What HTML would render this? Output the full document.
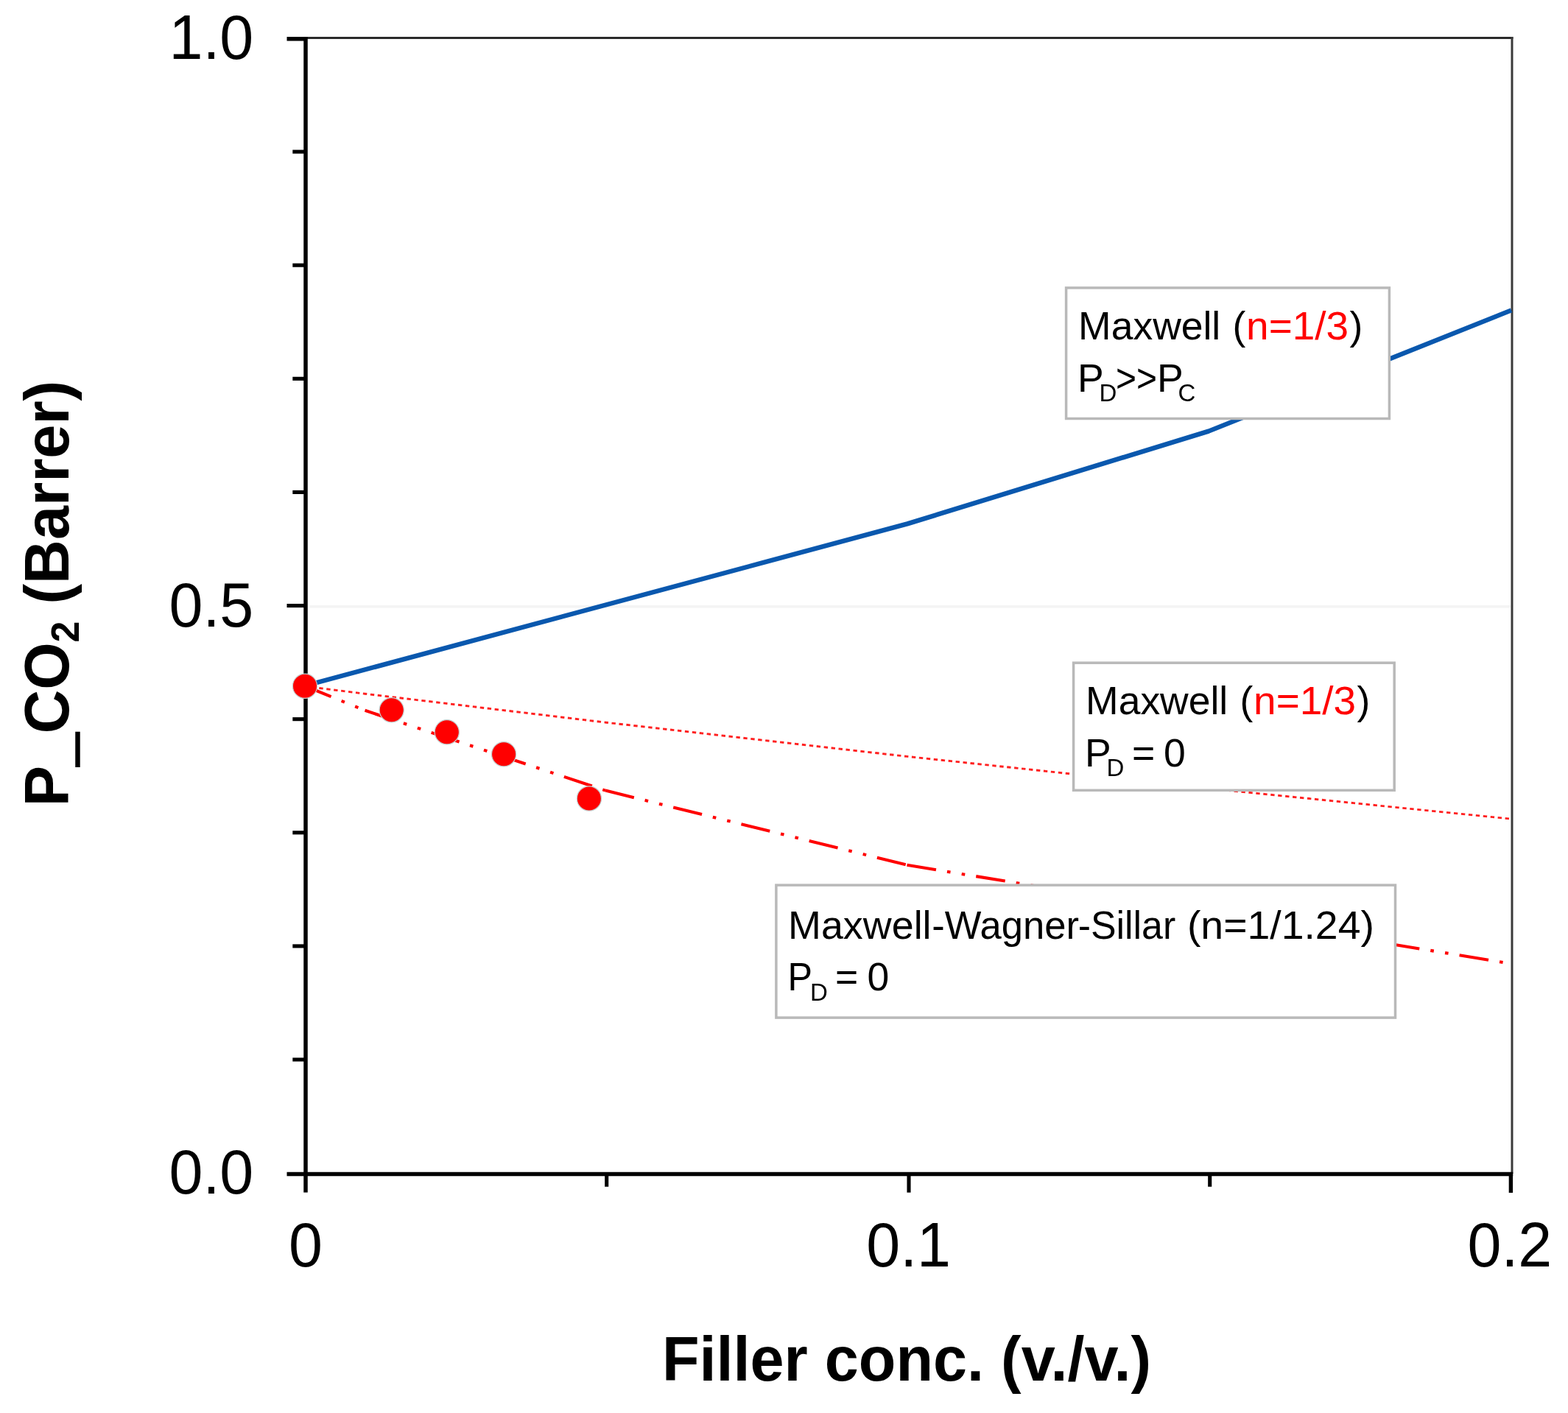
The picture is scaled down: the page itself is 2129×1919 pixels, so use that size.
<!DOCTYPE html>
<html lang="en"><head><meta charset="utf-8"><title>P_CO2 vs filler concentration</title>
<style>
html,body{margin:0;padding:0;background:#fff;}
body{width:2129px;height:1919px;overflow:hidden;}
svg{display:block;}
text{font-family:"Liberation Sans",sans-serif;}
.tick{font-size:82.6px;fill:#000;}
.lab{font-size:82.8px;font-weight:bold;fill:#000;}
.leg{font-size:53.5px;fill:#000;}
.sub{font-size:33px;}
.red{fill:#ff0000;}
</style></head><body>
<svg width="2129" height="1919" viewBox="0 0 2129 1919">
<rect x="0" y="0" width="2129" height="1919" fill="#ffffff"/>
<g>
<line x1="420.5" y1="823.7" x2="2051" y2="823.7" stroke="#f4f4f4" stroke-width="3.4"/>
<line x1="415" y1="51.5" x2="2054.5" y2="51.5" stroke="#2a2a2a" stroke-width="3"/>
<line x1="2053.0" y1="50" x2="2053.0" y2="1594" stroke="#3a3a3a" stroke-width="3"/>
<polyline fill="none" stroke="#0a58ae" stroke-width="6.4" stroke-linejoin="round" points="413.5,931.5 1232.0,711.4 1641.0,585.6 2052.0,421.4"/>
<polyline fill="none" stroke="#ff2020" stroke-width="2.9" stroke-dasharray="5.4 4.6" points="413.5,932.0 495.4,942.2 822.8,981.2 1232.0,1027.4 1641.0,1070.8 2052.0,1112.2"/>
<line x1="412.5" y1="931.0" x2="495.5" y2="964.8" stroke="#ff0000" stroke-width="4.1" stroke-dasharray="40 15.2 4.6 15.4 4.6 15.2"/>
<line x1="495.5" y1="964.8" x2="822.0" y2="1073.6" stroke="#ff0000" stroke-width="4.1" stroke-dasharray="40 15.2 4.6 15.4 4.6 15.2"/>
<line x1="822.0" y1="1073.6" x2="1231.5" y2="1174.8" stroke="#ff0000" stroke-width="4.1" stroke-dasharray="40 15.2 4.6 15.4 4.6 15.2"/>
<line x1="1231.5" y1="1174.8" x2="2052.0" y2="1308.8" stroke="#ff0000" stroke-width="4.1" stroke-dasharray="40 15.2 4.6 15.4 4.6 15.2"/>
<g stroke="#000" stroke-width="5.5" fill="none">
<line x1="415.0" y1="50.3" x2="415.0" y2="1619.6"/>
<line x1="389.5" y1="1594.6" x2="2054.2" y2="1594.6"/>
<line x1="389.5" y1="52.8" x2="415.0" y2="52.8"/>
</g>
<g stroke="#000" stroke-width="5.1" fill="none">
<line x1="397.3" y1="1439.03" x2="415.0" y2="1439.03"/>
<line x1="397.3" y1="1284.91" x2="415.0" y2="1284.91"/>
<line x1="397.3" y1="1130.79" x2="415.0" y2="1130.79"/>
<line x1="397.3" y1="976.67" x2="415.0" y2="976.67"/>
<line x1="389.5" y1="822.55" x2="415.0" y2="822.55"/>
<line x1="397.3" y1="668.43" x2="415.0" y2="668.43"/>
<line x1="397.3" y1="514.31" x2="415.0" y2="514.31"/>
<line x1="397.3" y1="360.19" x2="415.0" y2="360.19"/>
<line x1="397.3" y1="206.07" x2="415.0" y2="206.07"/>
<line x1="823.7" y1="1594.3" x2="823.7" y2="1611.7"/>
<line x1="1234.0" y1="1594.3" x2="1234.0" y2="1619.6"/>
<line x1="1642.7" y1="1594.3" x2="1642.7" y2="1611.7"/>
</g>
<line x1="2051.4" y1="1594.3" x2="2051.4" y2="1619.9" stroke="#000" stroke-width="5.4"/>
<circle cx="414.0" cy="931.8" r="16.6" fill="#ff0000" stroke="#c4cfcf" stroke-width="1.2"/>
<circle cx="531.7" cy="964.3" r="16.6" fill="#ff0000" stroke="#c4cfcf" stroke-width="1.2"/>
<circle cx="606.8" cy="994.3" r="16.6" fill="#ff0000" stroke="#c4cfcf" stroke-width="1.2"/>
<circle cx="684.1" cy="1024.3" r="16.6" fill="#ff0000" stroke="#c4cfcf" stroke-width="1.2"/>
<circle cx="799.9" cy="1084.5" r="16.6" fill="#ff0000" stroke="#c4cfcf" stroke-width="1.2"/>
<rect x="1447.6" y="390.9" width="438.8" height="177.6" fill="#ffffff" stroke="#b9b9b9" stroke-width="3.5"/>
<text class="leg" transform="translate(0 460.8) scale(1 1.020)" xml:space="preserve"><tspan x="1464.1">Maxwell</tspan> <tspan x="1673.6">(</tspan><tspan x="1692.1" class="red" textLength="139.0" lengthAdjust="spacingAndGlyphs">n=1/3</tspan><tspan x="1832.6">)</tspan></text>
<text class="leg" transform="translate(0 531.5) scale(1 1.020)" xml:space="preserve"><tspan x="1463.0">P</tspan><tspan x="1492.5" dy="13.33" class="sub">D</tspan><tspan x="1515.0" dy="-13.33" textLength="56.0" lengthAdjust="spacingAndGlyphs">&gt;&gt;</tspan><tspan x="1571.0">P</tspan><tspan x="1599.5" dy="13.33" class="sub">C</tspan></text>
<rect x="1457.6" y="900.2" width="435.6" height="173.1" fill="#ffffff" stroke="#b9b9b9" stroke-width="3.5"/>
<text class="leg" transform="translate(0 970.1) scale(1 1.020)" xml:space="preserve"><tspan x="1474.1">Maxwell</tspan> <tspan x="1683.6">(</tspan><tspan x="1702.1" class="red" textLength="139.0" lengthAdjust="spacingAndGlyphs">n=1/3</tspan><tspan x="1842.6">)</tspan></text>
<text class="leg" transform="translate(0 1040.5) scale(1 1.020)" xml:space="preserve"><tspan x="1473.0">P</tspan><tspan x="1502.5" dy="13.33" class="sub">D</tspan> <tspan x="1537.0" dy="-13.33">=</tspan> <tspan x="1580.0">0</tspan></text>
<rect x="1053.9" y="1202.1" width="840.6" height="180.0" fill="#ffffff" stroke="#b9b9b9" stroke-width="3.5"/>
<text class="leg" transform="translate(0 1275.3) scale(1 1.020)" xml:space="preserve"><tspan x="1070.0" textLength="194.6" lengthAdjust="spacingAndGlyphs">Maxwell</tspan><tspan x="1265.3" textLength="199.7" lengthAdjust="spacingAndGlyphs">-Wagner</tspan><tspan x="1463.7" textLength="132.5" lengthAdjust="spacingAndGlyphs">-Sillar</tspan> <tspan x="1611.9" textLength="254.0" lengthAdjust="spacingAndGlyphs">(n=1/1.24)</tspan></text>
<text class="leg" transform="translate(0 1345.3) scale(1 1.020)" xml:space="preserve"><tspan x="1069.5" textLength="33.5" lengthAdjust="spacingAndGlyphs">P</tspan><tspan x="1100.0" dy="13.33" class="sub">D</tspan> <tspan x="1134.0" dy="-13.33">=</tspan> <tspan x="1177.5">0</tspan></text>
<text class="tick" transform="translate(344.3 80.2) scale(1 1.040)" text-anchor="end">1.0</text>
<text class="tick" transform="translate(344.3 850.7) scale(1 1.040)" text-anchor="end">0.5</text>
<text class="tick" transform="translate(344.3 1621.3) scale(1 1.040)" text-anchor="end">0.0</text>
<text class="tick" transform="translate(415.0 1719.9) scale(1 1.040)" text-anchor="middle">0</text>
<text class="tick" transform="translate(1233.6 1719.9) scale(1 1.040)" text-anchor="middle">0.1</text>
<text class="tick" transform="translate(2049.9 1719.9) scale(1 1.040)" text-anchor="middle">0.2</text>
<text class="lab" transform="translate(1231.0 1874.7) scale(1 1.020)" text-anchor="middle">Filler conc. (v./v.)</text>
<text class="lab" transform="translate(93.0 806.0) rotate(-90) scale(1 1.028)" text-anchor="middle">P<tspan stroke="#000" stroke-width="3.4" font-size="78" dx="0.5" dy="4.2">_</tspan><tspan dx="-0.5" dy="-4.2">CO</tspan><tspan font-size="52" dy="14">2</tspan><tspan dy="-14"> (Barrer)</tspan></text>
</g>
</svg>
</body></html>
